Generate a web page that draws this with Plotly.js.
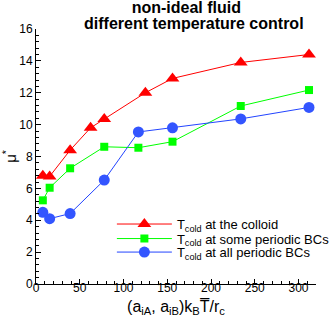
<!DOCTYPE html>
<html>
<head>
<meta charset="utf-8">
<script src="https://cdn.plot.ly/plotly-3.0.1.min.js"></script>
<style>
  body { margin: 0; background: #fff; }
  #chart { width: 331px; height: 322px; }
</style>
</head>
<body>
<div id="chart"></div>
<script>
// values
const colloidX = [7.8, 15.6, 39, 62.4, 78, 125, 156, 234, 312];
const colloidY = [6.8, 6.75, 8.4, 9.8, 10.35, 12.0, 12.9, 13.9, 14.4];

const someX = [7.8, 15.6, 39, 78, 117, 156, 234, 312];
const someY = [5.25, 6.04, 7.26, 8.61, 8.55, 8.93, 11.17, 12.17];

const allX = [7.8, 15.6, 39, 78, 117, 156, 234, 312];
const allY = [4.5, 4.1, 4.42, 6.52, 9.54, 9.8, 10.36, 11.08];

const seriesNames = [
  'T<sub>cold</sub> at the colloid',
  'T<sub>cold</sub> at some periodic BCs',
  'T<sub>cold</sub> at all periodic BCs'
];

const titleLines = ['non-ideal fluid', 'different temperature control'];

const font = 'Liberation Sans, Arial, sans-serif';

const traces = [
  {
    x: colloidX, y: colloidY, name: seriesNames[0], legend: 'legend',
    type: 'scatter', mode: 'lines+markers',
    line: { color: '#ff0000', width: 1 },
    marker: { color: '#ff0000', symbol: 'triangle-up', size: 12 }
  },
  {
    x: someX, y: someY, name: seriesNames[1], legend: 'legend2',
    type: 'scatter', mode: 'lines+markers',
    line: { color: '#00ff00', width: 1 },
    marker: { color: '#00ff00', symbol: 'square', size: 8 }
  },
  {
    x: allX, y: allY, name: seriesNames[2], legend: 'legend3',
    type: 'scatter', mode: 'lines+markers',
    line: { color: '#2244ff', width: 1 },
    marker: { color: '#3355ff', symbol: 'circle', size: 11 }
  }
];

// one legend per row so the rows sit as tight as in the original
const legendBox = (y) => ({
  x: 0.271, y: y, xanchor: 'left', yanchor: 'middle',
  bgcolor: 'rgba(0,0,0,0)',
  itemwidth: 55,
  font: { family: font, size: 13, color: '#000' }
});

const axisCommon = {
  ticks: 'inside', ticklen: 5, tickwidth: 1, tickcolor: '#000',
  showline: true, linecolor: '#000', linewidth: 1,
  showgrid: false, zeroline: false,
  tickfont: { family: font, size: 12, color: '#000' }
};

const layout = {
  width: 331,
  height: 322,
  margin: { l: 36, r: 15, t: 29, b: 38, autoexpand: false },
  paper_bgcolor: '#fff',
  plot_bgcolor: '#fff',
  font: { family: font, size: 12, color: '#000' },
  // the two title lines sit closer than a <br> allows, so the second one is an annotation
  title: {
    text: '<b>' + titleLines[0] + '</b>',
    font: { family: font, size: 16, color: '#000' },
    x: 0.563, xanchor: 'center',
    yref: 'container', y: 0.977, yanchor: 'middle'
  },
  annotations: [{
    text: '<b>' + titleLines[1] + '</b>',
    font: { family: font, size: 16, color: '#000' },
    xref: 'paper', yref: 'paper',
    x: 0.565, y: 1, xanchor: 'center', yanchor: 'bottom',
    yshift: -4, borderpad: 0, showarrow: false
  }],
  showlegend: true,
  legend: legendBox(0.235),
  legend2: legendBox(0.178),
  legend3: legendBox(0.125),
  xaxis: {
    ...axisCommon,
    range: [0, 320],
    dtick: 50,
    ticklabelstandoff: -7,
    minor: { dtick: 10, ticks: 'inside', ticklen: 3, tickcolor: '#000' },
    title: {
      text: '(a<sub>iA</sub>, a<sub>iB</sub>)k<sub>B</sub>T\u0305/r<sub>c</sub>',
      font: { family: font, size: 16, color: '#000' },
      standoff: 6
    }
  },
  yaxis: {
    ...axisCommon,
    range: [0, 16],
    dtick: 2,
    minor: { dtick: 0.4, ticks: 'inside', ticklen: 3, tickcolor: '#000' },
    title: {
      text: '\u03bc<sup>*</sup>',
      font: { family: font, size: 15, color: '#000' },
      standoff: 10
    }
  }
};

Plotly.newPlot('chart', traces, layout, { displayModeBar: false, staticPlot: true });
</script>
</body>
</html>
